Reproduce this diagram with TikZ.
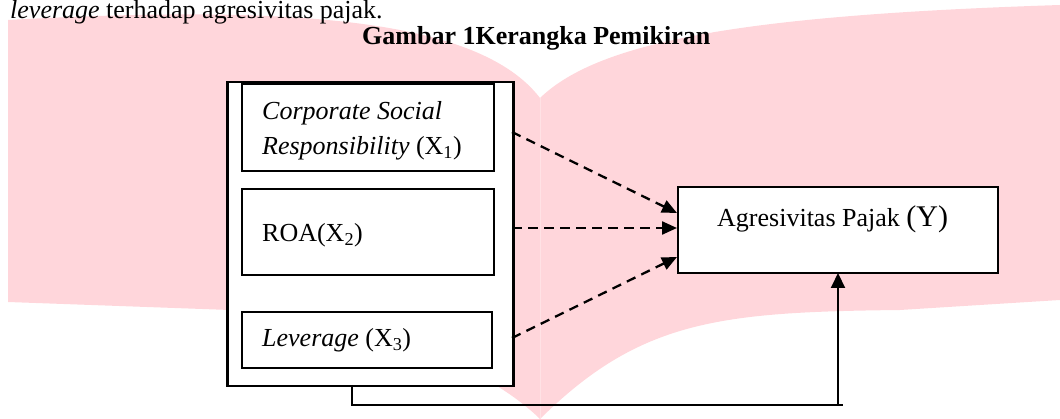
\documentclass[tikz,border=0pt]{standalone}
\usepackage{fontspec}
\setmainfont{Liberation Serif}
\usetikzlibrary{arrows.meta}
\definecolor{wmpink}{RGB}{255,214,219}
\definecolor{wmline}{RGB}{255,226,229}
\tikzset{
  box/.style={draw=black, fill=white, line width=2.2, inner sep=0, anchor=north west},
  lbl/.style={inner sep=0, anchor=base west, font=\fontsize{26}{35}\selectfont},
  dasharrow/.style={line width=2.3, dash pattern=on 9.5pt off 6.5pt, -{Triangle[length=15pt,width=13pt]}},
  solidarrow/.style={line width=2, -{Triangle[length=15pt,width=14pt]}},
  thinline/.style={line width=1.3}
}
\begin{document}
\begin{tikzpicture}[x=1pt,y=-1pt]
\useasboundingbox (0,0) rectangle (1060,419);
% watermark
\fill[wmpink] (8,20) .. controls (300,4) and (480,20) .. (540,98) -- (540,419)
  .. controls (480,360) and (350,315) .. (230,310) -- (8,302) -- cycle;
\fill[wmpink] (540,98) .. controls (600,40) and (750,15) .. (1060,5) -- (1060,300) -- (900,310)
  .. controls (720,312) and (640,320) .. (540,419) -- cycle;
\draw[wmline, line width=1] (540,98) -- (540,419);
% top text and title
\node[lbl] (top) at (10,18.5) {\textit{leverage} terhadap agresivitas pajak.};
\node[lbl, font=\fontsize{26}{35}\selectfont\bfseries] (title) at (362,45) {Gambar 1Kerangka Pemikiran};
% boxes
\node[box, line width=2.5, minimum width=286, minimum height=304] (outer) at (226,81) {};
\node[box, minimum width=252, minimum height=87] (csr) at (241,83) {};
\node[box, minimum width=252, minimum height=86] (roa) at (241,188) {};
\node[box, minimum width=250, minimum height=56] (lev) at (241,311) {};
\node[box, line width=2, minimum width=320, minimum height=86] (ybox) at (677,186) {};
% labels
\node[lbl] (t1a) at (262,120) {\textit{Corporate Social}};
\node[lbl] (t1b) at (262,155) {\textit{Responsibility} (X\textsubscript{1})};
\node[lbl] (t2) at (262,242) {ROA(X\textsubscript{2})};
\node[lbl] (t3) at (262,347) {\textit{Leverage} (X\textsubscript{3})};
\node[lbl] (ty) at (717,227) {Agresivitas Pajak {\fontsize{30}{30}\selectfont(Y)}};
% connector points
\coordinate (s1) at (512,132);
\coordinate (s2) at (512,228);
\coordinate (s3) at (512,338);
\coordinate (e1) at (677,213);
\coordinate (e2) at (677,228);
\coordinate (e3) at (677,257);
\coordinate (b0) at (352,385);
\coordinate (b1) at (352,405);
\coordinate (b2) at (843,405);
\coordinate (u0) at (838,405);
\coordinate (u1) at (838,273);
% dashed arrows
\draw[dasharrow] (s1) -- (e1);
\draw[dasharrow] (s2) -- (e2);
\draw[dasharrow] (s3) -- (e3);
% bottom connector
\draw[thinline] (b0) -- (b1) -- (b2);
\draw[solidarrow] (u0) -- (u1);
\end{tikzpicture}
\end{document}
